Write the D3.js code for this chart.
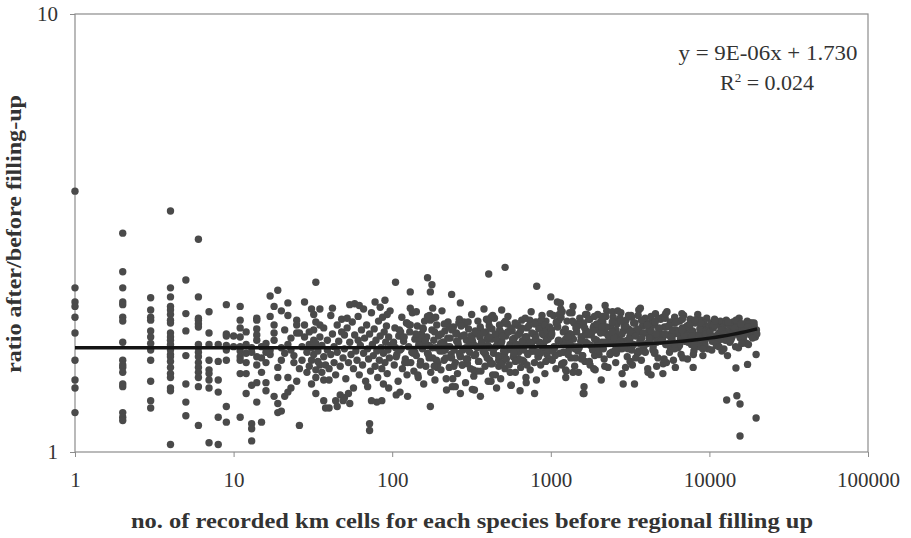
<!DOCTYPE html>
<html>
<head>
<meta charset="utf-8">
<script src="https://cdnjs.cloudflare.com/ajax/libs/d3/7.8.5/d3.min.js"></script>
<style>
    body { margin: 0; background: #fff; }
    text { font-family: "Liberation Serif", "Times New Roman", serif; fill: #333; }
</style>
</head>
<body>
<div id="svg-area"></div>
<script>
// define dimensions of svg container
var svgWidth = 911;
var svgHeight = 538;

// define chart margins (plot area of the original spreadsheet chart)
var margin = {
    top: 14,
    right: 43,
    bottom: 86,
    left: 75
};

var chartWidth = svgWidth - margin.left - margin.right;
var chartHeight = svgHeight - margin.top - margin.bottom;

//////// Data ////////
var xTicks = [1, 10, 100, 1000, 10000, 100000];
var yTicks = [1, 10];

// species with very few recorded cells (x = 1 .. 10 form columns)
var lowCells = [
    1, 1, 1, 1, 1, 1, 1, 1, 1, 1,
    2, 2, 2, 2, 2, 2, 2, 2, 2, 2, 2, 2, 2, 2, 2, 2, 2,
    3, 3, 3, 3, 3, 3, 3, 3, 3, 3, 3, 3,
    4, 4, 4, 4, 4, 4, 4, 4, 4, 4, 4, 4, 4, 4, 4, 4, 4, 4, 4, 4, 4, 4, 4,
    5, 5, 5, 5, 5, 5, 5,
    6, 6, 6, 6, 6, 6, 6, 6, 6, 6, 6, 6, 6, 6, 6, 6,
    7, 7, 7, 7, 7, 7, 7, 7, 7,
    8, 8, 8, 8, 8, 8,
    9, 9, 9, 9, 9, 9, 9, 9,
    10, 10
];
var lowRatio = [
    3.94, 2.37, 2.20, 2.15, 2.03, 1.87, 1.62, 1.46, 1.40, 1.23,
    3.16, 2.58, 2.37, 2.20, 2.17, 2.03, 1.99, 1.78, 1.62, 1.58, 1.56, 1.52, 1.43, 1.41, 1.23, 1.20, 1.18,
    2.25, 2.11, 2.03, 2.00, 1.89, 1.83, 1.77, 1.71, 1.62, 1.45, 1.31, 1.26,
    3.55, 2.37, 2.26, 2.15, 2.11, 2.06, 2.00, 1.97, 1.87, 1.83, 1.80, 1.76, 1.74, 1.71, 1.67, 1.65, 1.61, 1.56, 1.51, 1.48, 1.40, 1.38, 1.04,
    2.47, 2.07, 1.89, 1.66, 1.43, 1.30, 1.21,
    3.06, 2.26, 2.02, 2.00, 1.96, 1.93, 1.76, 1.73, 1.69, 1.65, 1.60, 1.56, 1.52, 1.48, 1.41, 1.15,
    2.09, 1.87, 1.76, 1.62, 1.54, 1.51, 1.46, 1.40, 1.05,
    1.76, 1.61, 1.46, 1.37, 1.20, 1.04,
    2.17, 1.86, 1.84, 1.75, 1.71, 1.62, 1.27, 1.17,
    1.84, 1.74
];

// 10 - 26 cells, [cells, ratio]
var pointsA = [
    [11, 2.15], [11, 2.00], [11, 1.92], [11, 1.83], [11, 1.74], [11, 1.70], [11, 1.65], [11, 1.62],
    [12, 1.88], [11, 1.51], [12, 1.51], [12, 1.36], [11, 1.20], [13, 1.16], [13, 1.13], [13, 1.06],
    [15, 1.17], [14, 1.30], [14, 1.44], [16, 1.44], [14, 2.02], [14, 2.00], [14, 1.91], [14, 1.85],
    [14, 1.80], [14, 1.65], [15, 1.64], [14, 1.58], [17, 2.27], [19, 2.34], [18, 2.15], [17, 2.04],
    [18, 1.95], [18, 1.87], [18, 1.80], [17, 1.71], [17, 1.67], [19, 1.56], [19, 1.48], [22, 1.48],
    [18, 1.34], [19, 1.29], [20, 1.24], [19, 1.23], [21, 1.34], [22, 1.37], [23, 1.40], [22, 2.19],
    [22, 2.05], [25, 2.00], [25, 1.95], [25, 1.87], [26, 1.87], [22, 1.76], [23, 1.71], [12, 1.76],
    [12, 1.68], [12, 1.60], [13, 1.73], [13, 1.69], [15, 1.74], [16, 1.69], [16, 1.77], [16, 1.60],
    [15, 1.52], [20, 1.62], [21, 1.68], [20, 1.73], [24, 1.60], [24, 1.66], [23, 1.82], [26, 1.55],
    [25, 1.45], [21, 1.90], [20, 2.10], [16, 1.38], [26, 1.15], [13, 1.42]
];

// 27 - 125 cells, [cells, ratio]
var pointsB = [
    [28, 2.20], [31, 2.12], [35, 2.12], [32, 2.06], [32, 1.90], [35, 1.95], [28, 1.83], [30, 1.76],
    [32, 1.80], [31, 1.62], [35, 1.58], [33, 1.54], [33, 1.48], [37, 1.46], [40, 1.46], [33, 1.36],
    [37, 1.31], [40, 1.26], [38, 1.26], [42, 2.13], [44, 1.31], [47, 1.35], [50, 1.33], [54, 1.29],
    [54, 2.17], [48, 2.01], [52, 2.02], [50, 1.85], [61, 1.80], [72, 1.16], [72, 1.12], [86, 1.31],
    [80, 1.30], [105, 2.44], [33, 2.44], [58, 2.18], [45, 1.27], [49, 1.31], [53, 1.36], [74, 1.31],
    [106, 1.35], [112, 1.37], [125, 1.34],
    [27, 1.74], [27, 1.62], [28, 1.95], [29, 1.69], [29, 1.52], [30, 1.88], [30, 1.57], [31, 1.73],
    [31, 1.43], [32, 1.67], [33, 1.98], [33, 1.77], [34, 1.61], [34, 1.70], [35, 1.83], [36, 1.52],
    [36, 1.75], [37, 1.92], [37, 1.65], [38, 1.58], [39, 1.80], [39, 1.71], [40, 1.55], [41, 2.05],
    [41, 1.67], [42, 1.86], [43, 1.60], [43, 1.74], [44, 1.50], [45, 1.95], [45, 1.69], [46, 1.79],
    [47, 1.57], [48, 1.88], [49, 1.64], [50, 1.72], [51, 1.47], [52, 1.92], [53, 1.60], [54, 1.78],
    [55, 1.67], [56, 1.98], [57, 1.55], [58, 1.85], [59, 1.70], [60, 1.62], [61, 2.04], [62, 1.50],
    [63, 1.75], [64, 1.90], [65, 1.58], [66, 1.68], [67, 1.82], [68, 1.45], [69, 1.95], [70, 1.72],
    [71, 1.63], [72, 1.86], [73, 1.53], [74, 2.08], [75, 1.76], [76, 1.66], [77, 1.91], [78, 1.57],
    [79, 1.80], [80, 1.70], [81, 1.48], [82, 1.99], [83, 1.62], [84, 1.84], [85, 1.73], [86, 1.55],
    [87, 2.03], [88, 1.68], [89, 1.88], [90, 1.60], [91, 1.78], [92, 1.94], [93, 1.51], [94, 1.71],
    [95, 1.83], [96, 1.64], [97, 2.10], [98, 1.75], [62, 2.16], [66, 2.12], [78, 2.20], [84, 2.14],
    [90, 2.22], [93, 2.06], [70, 1.41], [88, 1.43], [95, 1.40], [57, 1.40]
];

// 100 - 1000 cells (dense band)
var cellsC = [
    101, 103, 104, 107, 109, 110, 112, 115, 116, 118, 121, 123, 124, 127, 129, 131, 133, 134, 137, 139,
    142, 144, 146, 148, 151, 153, 155, 158, 160, 163, 165, 167, 170, 172, 175, 178, 180, 183, 186, 189,
    191, 194, 197, 200, 203, 206, 209, 212, 215, 219, 222, 225, 229, 232, 235, 239, 243, 246, 250, 254,
    258, 261, 265, 269, 273, 277, 281, 286, 290, 294, 299, 303, 308, 312, 317, 322, 327, 331, 336, 341,
    347, 352, 357, 363, 368, 374, 379, 385, 391, 397, 403, 409, 415, 422, 428, 435, 441, 448, 455, 462,
    469, 476, 483, 491, 498, 506, 514, 521, 529, 537, 546, 554, 563, 571, 580, 589, 598, 607, 617, 626,
    636, 646, 656, 666, 676, 686, 697, 708, 719, 730, 741, 752, 764, 776, 788, 800, 812, 825, 837, 850,
    863, 877, 890, 904, 918, 932, 946, 961, 976, 990,
    105, 113, 120, 128, 136, 145, 152, 161, 171, 181, 192, 204, 216, 228, 241, 255, 268, 283, 298, 314,
    330, 345, 361, 378, 395, 412, 430, 450, 470, 490, 510, 532, 555, 578, 602, 627, 652, 680, 708, 737,
    767, 798, 830, 862, 896, 930, 965,
    117, 139, 157, 184, 211, 237, 263, 292, 325, 355, 388, 420, 458, 495, 535, 575, 615, 660, 705, 755,
    805, 860, 920
];
var ratioC = [
    1.76, 1.58, 1.92, 1.67, 1.45, 1.84, 1.71, 2.03, 1.55, 1.79, 1.63, 1.97, 1.50, 1.74, 1.88, 1.60, 1.69, 2.08, 1.53, 1.81,
    1.66, 1.94, 1.48, 1.77, 1.61, 1.86, 1.72, 1.43, 1.99, 1.57, 1.83, 1.68, 1.75, 2.05, 1.52, 1.90, 1.64, 1.80, 1.46, 1.73,
    1.95, 1.59, 1.85, 1.70, 1.54, 2.10, 1.78, 1.62, 1.89, 1.47, 1.74, 1.98, 1.56, 1.82, 1.67, 1.41, 1.93, 1.71, 1.60, 1.87,
    1.51, 1.76, 2.01, 1.65, 1.84, 1.58, 1.72, 1.96, 1.44, 1.80, 1.63, 1.91, 1.69, 1.55, 2.06, 1.78, 1.49, 1.86, 1.67, 1.74,
    1.99, 1.61, 1.83, 1.53, 1.77, 1.70, 2.12, 1.57, 1.88, 1.64, 1.45, 1.94, 1.73, 1.81, 1.59, 1.68, 2.02, 1.50, 1.85, 1.75,
    1.62, 1.90, 1.47, 1.79, 1.66, 1.97, 1.55, 1.84, 1.71, 2.04, 1.58, 1.76, 1.42, 1.89, 1.65, 1.82, 1.52, 1.95, 1.73, 1.69,
    1.87, 1.56, 2.00, 1.74, 1.61, 1.83, 1.48, 1.92, 1.68, 1.77, 1.54, 2.09, 1.70, 1.86, 1.60, 1.80, 1.46, 1.96, 1.65, 1.78,
    1.58, 1.91, 1.72, 1.85, 1.51, 1.99, 1.67, 1.81, 1.63, 2.07,
    1.73, 1.88, 1.60, 1.95, 1.68, 1.50, 1.82, 1.77, 1.64, 2.02, 1.56, 1.86, 1.71, 1.93, 1.47, 1.79, 1.66, 1.98, 1.59, 1.84,
    1.75, 1.53, 1.90, 1.69, 1.81, 1.62, 2.05, 1.74, 1.57, 1.87, 1.67, 1.96, 1.52, 1.80, 1.72, 1.63, 1.92, 1.78, 1.58, 2.00,
    1.70, 1.85, 1.65, 1.94, 1.76, 1.61, 1.89,
    1.82, 1.69, 1.91, 1.57, 1.78, 1.64, 1.97, 1.73, 1.54, 1.86, 1.67, 2.03, 1.75, 1.60, 1.88, 1.71, 1.95, 1.62, 1.83, 1.76,
    1.98, 1.68, 1.90
];

// more species in the core of the 100 - 1000 band
var cellsC2 = [
    102, 106, 111, 114, 119, 125, 130, 135, 141, 147, 150, 156, 162, 169, 174, 179, 185, 190, 196, 202,
    208, 213, 218, 224, 231, 238, 245, 252, 259, 266, 272, 279, 285, 293, 301, 310, 319, 328, 334, 343,
    350, 359, 366, 376, 383, 393, 401, 410, 418, 426, 437, 446, 458, 466, 475, 486, 496, 504, 517, 525,
    540, 550, 560, 575, 585, 596, 610, 620, 633, 648, 660, 672, 690, 702, 716, 727, 745, 760, 773, 792,
    805, 820, 840, 855, 870, 885, 900, 915, 935, 950, 968, 982, 995,
    124, 188, 276, 405, 598, 880
];
var ratioC2 = [
    1.78, 1.65, 1.90, 1.72, 1.83, 1.60, 1.95, 1.69, 1.86, 1.75, 1.58, 1.92, 1.80, 1.67, 2.00, 1.73, 1.88, 1.62, 1.84, 1.77,
    1.70, 1.96, 1.64, 1.82, 1.74, 1.90, 1.57, 1.86, 1.79, 1.68, 1.94, 1.71, 1.85, 1.63, 1.98, 1.76, 1.81, 1.66, 1.89, 1.73,
    1.61, 1.93, 1.78, 1.87, 1.69, 2.01, 1.75, 1.83, 1.59, 1.91, 1.72, 1.86, 1.80, 1.66, 1.95, 1.77, 1.84, 1.70, 1.99, 1.63,
    1.88, 1.74, 1.92, 1.81, 1.68, 1.97, 1.76, 1.85, 1.62, 1.90, 1.79, 1.71, 2.02, 1.83, 1.67, 1.94, 1.78, 1.87, 1.73, 1.96,
    1.82, 1.69, 1.91, 1.76, 2.00, 1.86, 1.74, 1.95, 1.80, 1.89, 1.71, 1.93, 1.84,
    1.97, 2.03, 1.58, 1.99, 1.61, 2.05
];

// 1000 - 10000 cells (dense band)
var cellsD = [
    1004, 1021, 1040, 1056, 1077, 1095, 1114, 1136, 1155, 1176, 1199, 1220, 1243, 1265, 1290, 1313, 1338, 1362, 1389, 1414,
    1440, 1468, 1495, 1523, 1552, 1580, 1610, 1641, 1672, 1703, 1735, 1768, 1800, 1834, 1870, 1905, 1940, 1977, 2014, 2052,
    2090, 2130, 2170, 2211, 2252, 2295, 2338, 2382, 2427, 2472, 2519, 2566, 2614, 2663, 2713, 2764, 2816, 2869, 2923, 2978,
    3034, 3091, 3149, 3208, 3268, 3330, 3392, 3456, 3521, 3587, 3654, 3723, 3793, 3864, 3937, 4011, 4086, 4163, 4241, 4321,
    4402, 4485, 4569, 4655, 4742, 4831, 4922, 5015, 5109, 5205, 5303, 5402, 5504, 5607, 5713, 5820, 5929, 6041, 6154, 6270,
    6388, 6507, 6630, 6754, 6881, 7011, 7142, 7277, 7413, 7553, 7695, 7839, 7987, 8137, 8290, 8445, 8604, 8766, 8930, 9098,
    9269, 9443, 9620, 9801, 9985,
    1010, 1066, 1125, 1187, 1252, 1325, 1400, 1480, 1565, 1655, 1750, 1850, 1955, 2068, 2190, 2315, 2450, 2590, 2740, 2900,
    3065, 3240, 3430, 3625, 3835, 4055, 4290, 4535, 4795, 5070, 5360, 5670, 5995, 6340, 6705, 7090, 7495, 7925, 8380, 8860,
    9370, 9900,
    1030, 1105, 1170, 1240, 1315, 1395, 1475, 1560, 1660, 1760, 1865, 1980, 2100, 2225, 2360, 2500, 2650, 2810, 2980, 3160,
    3350, 3555, 3770, 4000, 4240, 4500, 4770, 5060, 5370, 5690, 6040, 6400, 6790, 7200, 7640, 8100, 8590, 9110, 9660,
    1085, 1210, 1350, 1510, 1690, 1890, 2115, 2365, 2645, 2960, 3310, 3700, 4140, 4630, 5180, 5790, 6480, 7250, 8110, 9070
];
var ratioD = [
    1.84, 1.62, 2.05, 1.73, 1.55, 1.95, 1.79, 1.68, 2.12, 1.59, 1.88, 1.76, 1.48, 1.99, 1.70, 1.86, 1.64, 2.08, 1.81, 1.57,
    1.92, 1.74, 1.52, 2.02, 1.83, 1.66, 1.97, 1.61, 1.89, 1.77, 2.14, 1.58, 1.85, 1.71, 1.94, 1.54, 1.80, 2.06, 1.67, 1.90,
    1.75, 1.98, 1.63, 1.87, 2.10, 1.56, 1.82, 1.93, 1.69, 2.03, 1.78, 1.60, 1.96, 1.84, 1.72, 2.08, 1.51, 1.89, 1.79, 2.00,
    1.65, 1.91, 1.83, 2.05, 1.58, 1.76, 1.97, 1.86, 1.68, 2.11, 1.80, 1.62, 1.94, 1.74, 2.02, 1.87, 1.55, 1.90, 1.81, 1.99,
    1.71, 1.95, 2.07, 1.78, 1.64, 1.88, 2.01, 1.84, 1.59, 1.93, 1.76, 2.09, 1.85, 1.69, 1.97, 1.81, 1.62, 2.03, 1.90, 1.74,
    1.87, 1.99, 1.67, 1.92, 2.05, 1.79, 1.84, 1.63, 1.95, 2.01, 1.76, 1.89, 1.70, 1.97, 1.83, 2.06, 1.74, 1.91, 1.86, 1.66,
    1.94, 1.81, 2.02, 1.72, 1.88,
    1.90, 1.66, 2.00, 1.78, 1.53, 1.86, 1.97, 1.70, 1.83, 2.06, 1.61, 1.92, 1.75, 1.99, 1.57, 1.85, 2.09, 1.68, 1.80, 1.94,
    1.72, 2.03, 1.64, 1.88, 1.96, 1.77, 2.04, 1.69, 1.91, 1.82, 1.60, 1.98, 1.86, 1.73, 2.07, 1.79, 1.93, 1.67, 1.85, 2.00,
    1.76, 1.89,
    1.70, 1.93, 1.58, 1.81, 2.08, 1.74, 1.96, 1.63, 1.87, 2.01, 1.55, 1.90, 1.78, 2.04, 1.67, 1.84, 1.99, 1.72, 1.91, 1.61,
    1.88, 2.05, 1.76, 1.95, 1.83, 1.68, 2.02, 1.80, 1.93, 1.73, 1.97, 1.86, 1.64, 1.90, 1.82, 2.00, 1.77, 1.92, 1.85,
    1.98, 1.60, 1.85, 1.73, 2.06, 1.66, 1.91, 1.79, 2.10, 1.56, 1.89, 1.70, 1.96, 1.83, 1.63, 1.87, 1.75, 1.94, 1.81, 1.72
];

// more species in the core of the 1000 - 10000 band
var cellsD2 = [
    1015, 1048, 1083, 1120, 1160, 1200, 1235, 1275, 1320, 1370, 1420, 1455, 1500, 1545, 1590, 1635, 1685, 1735, 1785, 1840,
    1890, 1950, 2005, 2060, 2120, 2180, 2240, 2305, 2370, 2440, 2510, 2580, 2655, 2730, 2810, 2890, 2970, 3055, 3145, 3235,
    3330, 3425, 3525, 3625, 3730, 3835, 3945, 4060, 4175, 4295, 4420, 4545, 4675, 4810, 4950, 5090, 5235, 5385, 5540, 5700,
    5865, 6030, 6205, 6380, 6565, 6755, 6945, 7145, 7350, 7560, 7780, 8000, 8230, 8470, 8710, 8960, 9220, 9480, 9750, 9950,
    1130, 1285, 1460, 1660, 1885, 2145, 2440, 2770, 3150, 3580, 4070, 4630, 5260, 5980, 6800, 7730, 8790, 9850,
    1180, 1430, 1735, 2100, 2550, 3090, 3750, 4550, 5520, 6690, 8110, 9500
];
var ratioD2 = [
    1.86, 1.74, 1.97, 1.80, 2.03, 1.69, 1.91, 1.83, 1.77, 1.99, 1.72, 1.88, 1.95, 1.79, 1.66, 1.92, 1.85, 2.01, 1.75, 1.89,
    1.81, 1.96, 1.70, 1.87, 2.04, 1.78, 1.93, 1.84, 1.68, 1.98, 1.82, 1.90, 1.76, 2.02, 1.86, 1.73, 1.94, 1.80, 1.88, 1.71,
    1.97, 1.84, 1.91, 1.77, 2.00, 1.87, 1.69, 1.95, 1.82, 1.89, 1.74, 1.99, 1.85, 1.92, 1.79, 2.03, 1.86, 1.76, 1.94, 1.83,
    1.90, 1.72, 1.98, 1.88, 1.81, 2.01, 1.85, 1.93, 1.78, 1.96, 1.87, 1.75, 2.00, 1.84, 1.91, 1.80, 1.97, 1.89, 1.83, 1.94,
    2.06, 1.67, 1.93, 1.78, 2.04, 1.72, 1.88, 1.99, 1.81, 1.70, 1.95, 1.86, 2.02, 1.76, 1.91, 1.84, 1.97, 1.89,
    2.09, 1.64, 1.87, 1.93, 1.71, 2.05, 1.82, 1.98, 1.77, 1.90, 2.00, 1.86
];

// 10000 - 20000 cells (narrow band at the right end)
var cellsE = [
    10100, 10250, 10420, 10600, 10780, 10950, 11150, 11340, 11520, 11730, 11920, 12130, 12340, 12550, 12770, 12990,
    13210, 13440, 13670, 13900, 14140, 14380, 14630, 14880, 15130, 15390, 15650, 15920, 16190, 16470, 16750, 17030,
    17320, 17620, 17920, 18220, 18530, 18840, 19160, 19480, 19800,
    10350, 10860, 11420, 12010, 12640, 13300, 13990, 14720, 15490, 16300, 17150, 18050, 18990, 19650,
    10520, 11620, 12800, 14050, 15250, 16600, 17800, 19300,
    10180, 10680, 11250, 11850, 12430, 13080, 13720, 14420, 15010, 15780, 16560, 17460, 18370, 19120, 19900,
    11050, 13550, 16000, 18700, 10900
];
var ratioE = [
    1.88, 1.97, 1.79, 1.92, 2.01, 1.84, 1.75, 1.95, 1.87, 1.99, 1.81, 1.93, 1.72, 1.89, 2.00, 1.85,
    1.96, 1.78, 1.91, 1.83, 1.98, 1.86, 1.74, 1.94, 1.90, 2.02, 1.82, 1.88, 1.96, 1.79, 1.93, 1.87,
    1.99, 1.76, 1.91, 1.85, 1.97, 1.89, 1.94, 1.83, 1.90,
    1.71, 1.99, 1.86, 1.92, 1.80, 1.95, 1.88, 2.00, 1.84, 1.93, 1.77, 1.97, 1.90, 1.86,
    1.94, 1.81, 1.98, 1.87, 1.73, 1.91, 1.96, 1.89,
    1.83, 1.95, 1.78, 1.90, 1.86, 1.98, 1.81, 1.92, 1.87, 1.96, 1.84, 1.93, 1.89, 1.97, 1.86,
    1.76, 1.80, 1.77, 1.82, 1.99
];

// points lying away from the band, [cells, ratio]
var outliers = [
    [167, 2.50], [178, 2.41], [130, 2.32], [174, 2.32], [237, 2.29], [269, 2.19], [406, 2.55], [515, 2.64],
    [815, 2.39], [1000, 2.26], [1100, 2.20], [490, 2.11], [130, 2.13], [142, 2.09], [180, 2.13], [167, 2.04],
    [174, 1.27], [220, 1.385], [250, 1.41], [269, 1.36], [330, 1.385], [360, 1.34], [790, 1.36], [1600, 1.36],
    [320, 1.39], [455, 1.40], [560, 1.42], [640, 1.38], [700, 1.44], [420, 1.45], [430, 1.50],
    [1150, 2.19], [1380, 2.15], [2200, 2.16], [3670, 2.13], [5300, 2.07], [1620, 1.41], [1620, 1.36],
    [2080, 1.46], [2860, 1.43], [3370, 1.43], [4100, 1.52], [4290, 1.50], [5090, 1.51], [4650, 1.57],
    [6100, 1.56], [7900, 1.56], [1240, 1.54], [1380, 1.52],
    [14700, 1.555], [17400, 1.585], [19700, 1.67], [12850, 1.314], [14900, 1.344], [15600, 1.287],
    [19700, 1.196], [15600, 1.088], [12000, 1.70], [11500, 1.74], [13000, 1.66]
];

// linear trend y = 9E-06x + 1.730
var trendCells = [1, 10, 100, 1000, 2000, 4000, 6000, 8000, 10000, 12000, 14000, 16000, 18000, 20000];
var trendRatio = [1.730, 1.730, 1.731, 1.739, 1.748, 1.766, 1.784, 1.802, 1.820, 1.838, 1.856, 1.874, 1.892, 1.910];

var equationText = "y = 9E-06x + 1.730";
var r2Value = "0.024";

// gather every species into one list of {cells, ratio}
var speciesData = []
    .concat(d3.zip(lowCells, lowRatio))
    .concat(pointsA)
    .concat(pointsB)
    .concat(d3.zip(cellsC, ratioC))
    .concat(d3.zip(cellsC2, ratioC2))
    .concat(d3.zip(cellsD, ratioD))
    .concat(d3.zip(cellsD2, ratioD2))
    .concat(d3.zip(cellsE, ratioE))
    .concat(outliers)
    .map(d => ({ cells: d[0], ratio: d[1] }));

var trendData = d3.zip(trendCells, trendRatio).map(d => ({ cells: d[0], ratio: d[1] }));

// create svg container
var svg = d3.select("#svg-area").append("svg")
    .attr("width", svgWidth)
    .attr("height", svgHeight);

var chartGroup = svg.append("g")
    .attr("transform", `translate(${margin.left}, ${margin.top})`);

// log scales on both axes
var xLogScale = d3.scaleLog()
    .domain([1, 100000])
    .range([0, chartWidth]);

var yLogScale = d3.scaleLog()
    .domain([1, 10])
    .range([chartHeight, 0]);

// axes
var bottomAxis = d3.axisBottom(xLogScale)
    .tickValues(xTicks)
    .tickFormat(d3.format("d"))
    .tickSize(5)
    .tickPadding(15);

var leftAxis = d3.axisLeft(yLogScale)
    .tickValues(yTicks)
    .tickFormat(d3.format("d"))
    .tickSize(5)
    .tickPadding(12);

var xAxis = chartGroup.append("g")
    .attr("transform", `translate(0, ${chartHeight})`)
    .call(bottomAxis);

var yAxis = chartGroup.append("g")
    .call(leftAxis);

[xAxis, yAxis].forEach(function (axis) {
    axis.select(".domain").remove();
    axis.selectAll("line").attr("stroke", "#8c8c8c");
    axis.selectAll("text")
        .attr("fill", "#333")
        .style("font-family", '"Liberation Serif", "Times New Roman", serif')
        .style("font-size", "21px");
});

// plot area frame
chartGroup.append("rect")
    .attr("x", 0)
    .attr("y", 0)
    .attr("width", chartWidth)
    .attr("height", chartHeight)
    .attr("fill", "none")
    .attr("stroke", "#8c8c8c")
    .attr("stroke-width", 1.2);

// scatter points
chartGroup.append("g")
    .selectAll("circle")
    .data(speciesData)
    .enter()
    .append("circle")
    .attr("cx", d => xLogScale(d.cells))
    .attr("cy", d => yLogScale(d.ratio))
    .attr("r", 3.7)
    .attr("fill", "#4a4a4a");

// trend line on top of the points
var trendLine = d3.line()
    .x(d => xLogScale(d.cells))
    .y(d => yLogScale(d.ratio))
    .curve(d3.curveMonotoneX);

chartGroup.append("path")
    .datum(trendData)
    .attr("d", trendLine)
    .attr("fill", "none")
    .attr("stroke", "#141414")
    .attr("stroke-width", 3.4);

// equation and R squared
var eqGroup = svg.append("g")
    .attr("transform", "translate(768, 0)");

eqGroup.append("text")
    .attr("y", 60)
    .attr("text-anchor", "middle")
    .style("font-size", "22px")
    .attr("textLength", 179)
    .attr("lengthAdjust", "spacingAndGlyphs")
    .text(equationText);

var r2Text = eqGroup.append("text")
    .attr("x", -48)
    .attr("y", 90)
    .style("font-size", "22px");
r2Text.append("tspan").text("R");
r2Text.append("tspan").attr("dy", -8).style("font-size", "13px").text("2");
r2Text.append("tspan").attr("dy", 8).text(" = " + r2Value);

// axis titles
svg.append("text")
    .attr("x", 472)
    .attr("y", 528)
    .attr("text-anchor", "middle")
    .style("font-size", "20px")
    .style("font-weight", "bold")
    .attr("textLength", 682)
    .attr("lengthAdjust", "spacingAndGlyphs")
    .text("no. of recorded km cells for each species before regional filling up");

svg.append("text")
    .attr("transform", "translate(21, 234) rotate(-90)")
    .attr("text-anchor", "middle")
    .style("font-size", "20px")
    .style("font-weight", "bold")
    .attr("textLength", 278)
    .attr("lengthAdjust", "spacingAndGlyphs")
    .text("ratio after/before filling-up");
</script>
</body>
</html>
